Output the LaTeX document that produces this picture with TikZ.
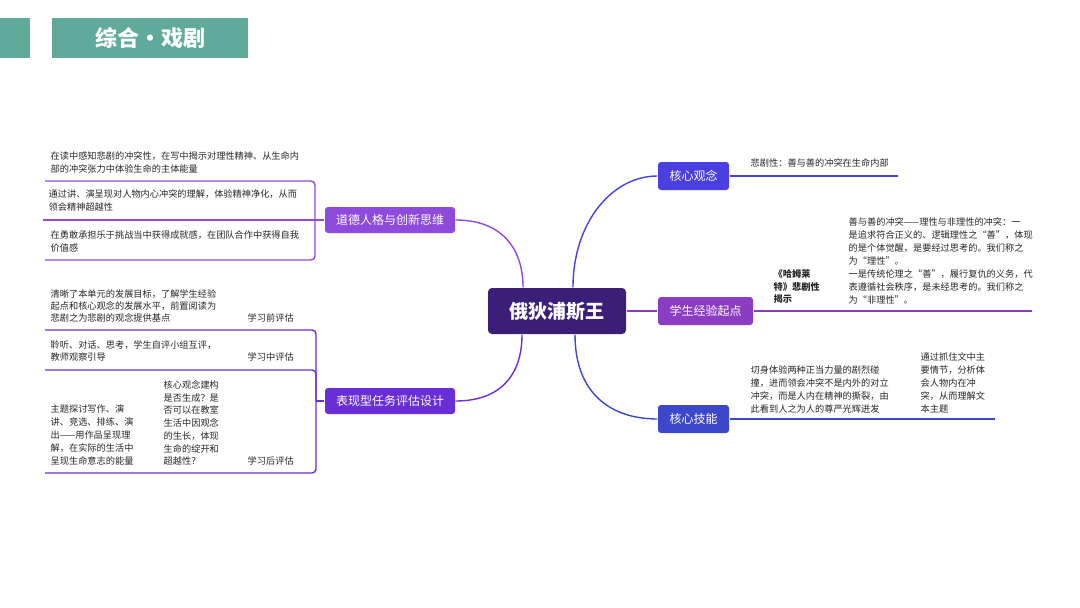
\documentclass[tikz,border=0pt]{standalone}
\usepackage{fontspec}
\newfontfamily\cjk{Noto Sans CJK SC}
\usetikzlibrary{calc}
\definecolor{headc}{HTML}{5FAA9B}
\definecolor{rootc}{HTML}{3A1E78}
\definecolor{kcc}{HTML}{4A3FE0}
\definecolor{xsc}{HTML}{8B3DC2}
\definecolor{jnc}{HTML}{3C47C9}
\definecolor{ddc}{HTML}{8D4ADB}
\definecolor{bxc}{HTML}{6A2ED6}
\begin{document}
\begin{tikzpicture}[x=1pt,y=-1pt,join=round,line width=1.4pt,
  topic/.style={rounded corners=3pt,text=white,inner sep=0pt,minimum height=28pt,font=\cjk\fontsize{12}{12}\selectfont},
  note/.style={anchor=north west,align=left,inner sep=0pt,text=black!85,font=\cjk\fontsize{9.2}{13}\selectfont}]
  \useasboundingbox (0,0) rectangle (1080,608);
  % header
  \fill[headc] (0,18) rectangle (30,58);
  \node[fill=headc,minimum width=196pt,minimum height=40pt,inner sep=0pt,text=white,font=\cjk\bfseries\fontsize{22}{22}\selectfont] (hd) at (150,38) {综合·戏剧};
  % centre and topics
  \node[fill=rootc,rounded corners=4pt,minimum width=138pt,minimum height=46pt,inner sep=0pt,text=white,font=\cjk\bfseries\fontsize{19}{19}\selectfont] (root) at (557,311) {俄狄浦斯王};
  \node[topic,fill=kcc,minimum width=71pt] (kc) at (693.5,176) {核心观念};
  \node[topic,fill=xsc,minimum width=95pt] (xs) at (705.5,311) {学生经验起点};
  \node[topic,fill=jnc,minimum width=71pt] (jn) at (693.5,419) {核心技能};
  \node[topic,fill=ddc,minimum width=130pt,minimum height=26pt] (dd) at (390,220) {道德人格与创新思维};
  \node[topic,fill=bxc,minimum width=130pt,minimum height=26pt] (bx) at (390,401) {表现型任务评估设计};
  \coordinate (rtr) at ($(root.north)+(16,0)$);
  \coordinate (rbr) at ($(root.south)+(18,0)$);
  \coordinate (rtl) at ($(root.north)+(-34,0)$);
  \coordinate (rbl) at ($(root.south)+(-35,0)$);
  \draw[kcc] (rtr) .. controls +(0,-65) and +(-45,0) .. (kc.west);
  \draw[xsc] (root.east) -- (xs.west);
  \draw[jnc] (rbr) .. controls +(0,60) and +(-45,0) .. (jn.west);
  \draw[ddc] (dd.east) .. controls +(45,0) and +(0,-40) .. (rtl);
  \draw[bxc] (bx.east) .. controls +(45,0) and +(0,40) .. (rbl);
  % right branches
  \coordinate (k1) at (898,176);
  \coordinate (x1) at (1032,311);
  \coordinate (j1) at (995,419);
  \draw[kcc] (kc.east) -- (k1);
  \draw[xsc] (xs.east) -- (x1);
  \draw[jnc] (jn.east) -- (j1);
  \node[note] (kc1) at (750,158) {悲剧性：善与善的冲突在生命内部};
  \node[note,font=\cjk\bfseries\fontsize{9.2}{12.5}\selectfont] (xs1) at (773,269) {《哈姆莱\\特》悲剧性\\揭示};
  \node[note] (xs2) at (848,217) {善与善的冲突——理性与非理性的冲突：一\\是追求符合正义的、逻辑理性之“善”，体现\\的是个体觉醒，是要经过思考的。我们称之\\为“理性”。\\一是传统伦理之“善”，履行复仇的义务，代\\表遵循社会秩序，是未经思考的。我们称之\\为“非理性”。};
  \node[note] (jn1) at (750,365) {切身体验两种正当力量的剧烈碰\\撞，进而领会冲突不是内外的对立\\冲突，而是人内在精神的撕裂，由\\此看到人之为人的尊严光辉迸发};
  \node[note] (jn2) at (920,352) {通过抓住文中主\\要情节，分析体\\会人物内在冲\\突，从而理解文\\本主题};
  % left branches
  \coordinate (d1) at (45,181);
  \coordinate (d2) at (43,220);
  \coordinate (d3) at (45,260);
  \coordinate (db) at (315,220);
  \draw[ddc,rounded corners=4pt] (d1) -| (db);
  \draw[ddc,rounded corners=4pt] (d3) -| (db);
  \draw[ddc] (d2) -- (dd.west);
  \node[note] (dd1) at (50,151) {在读中感知悲剧的冲突性，在写中揭示对理性精神、从生命内\\部的冲突张力中体验生命的主体能量};
  \node[note] (dd2) at (48,189) {通过讲、演呈现对人物内心冲突的理解，体验精神净化，从而\\领会精神超越性};
  \node[note] (dd3) at (50,230) {在勇敢承担乐于挑战当中获得成就感，在团队合作中获得自我\\价值感};
  \coordinate (b1) at (45,330);
  \coordinate (b2) at (45,370);
  \coordinate (b3) at (45,473);
  \coordinate (bb) at (316,401);
  \draw[bxc,rounded corners=4pt] (b1) -| (bb);
  \draw[bxc,rounded corners=4pt] (b2) -| (bb);
  \draw[bxc,rounded corners=4pt] (b3) -| (bb);
  \draw[bxc] (bb) -- (bx.west);
  \node[note,font=\cjk\fontsize{9.2}{12}\selectfont] (bx1) at (50,289) {清晰了本单元的发展目标，了解学生经验\\起点和核心观念的发展水平，前置阅读为\\悲剧之为悲剧的观念提供基点};
  \node[note] (pg1) at (247,313) {学习前评估};
  \node[note,font=\cjk\fontsize{9.2}{12}\selectfont] (bx2) at (50,340) {聆听、对话、思考，学生自评小组互评，\\教师观察引导};
  \node[note] (pg2) at (247,352) {学习中评估};
  \node[note] (bx3) at (50,404) {主题探讨写作、演\\讲、竞选、排练、演\\出——用作品呈现理\\解，在实际的生活中\\呈现生命意志的能量};
  \node[note,font=\cjk\fontsize{9.2}{12.7}\selectfont] (bx4) at (163,380) {核心观念建构\\是否生成？是\\否可以在教室\\生活中因观念\\的生长，体现\\生命的绽开和\\超越性？};
  \node[note] (pg3) at (247,456) {学习后评估};
\end{tikzpicture}
\end{document}
